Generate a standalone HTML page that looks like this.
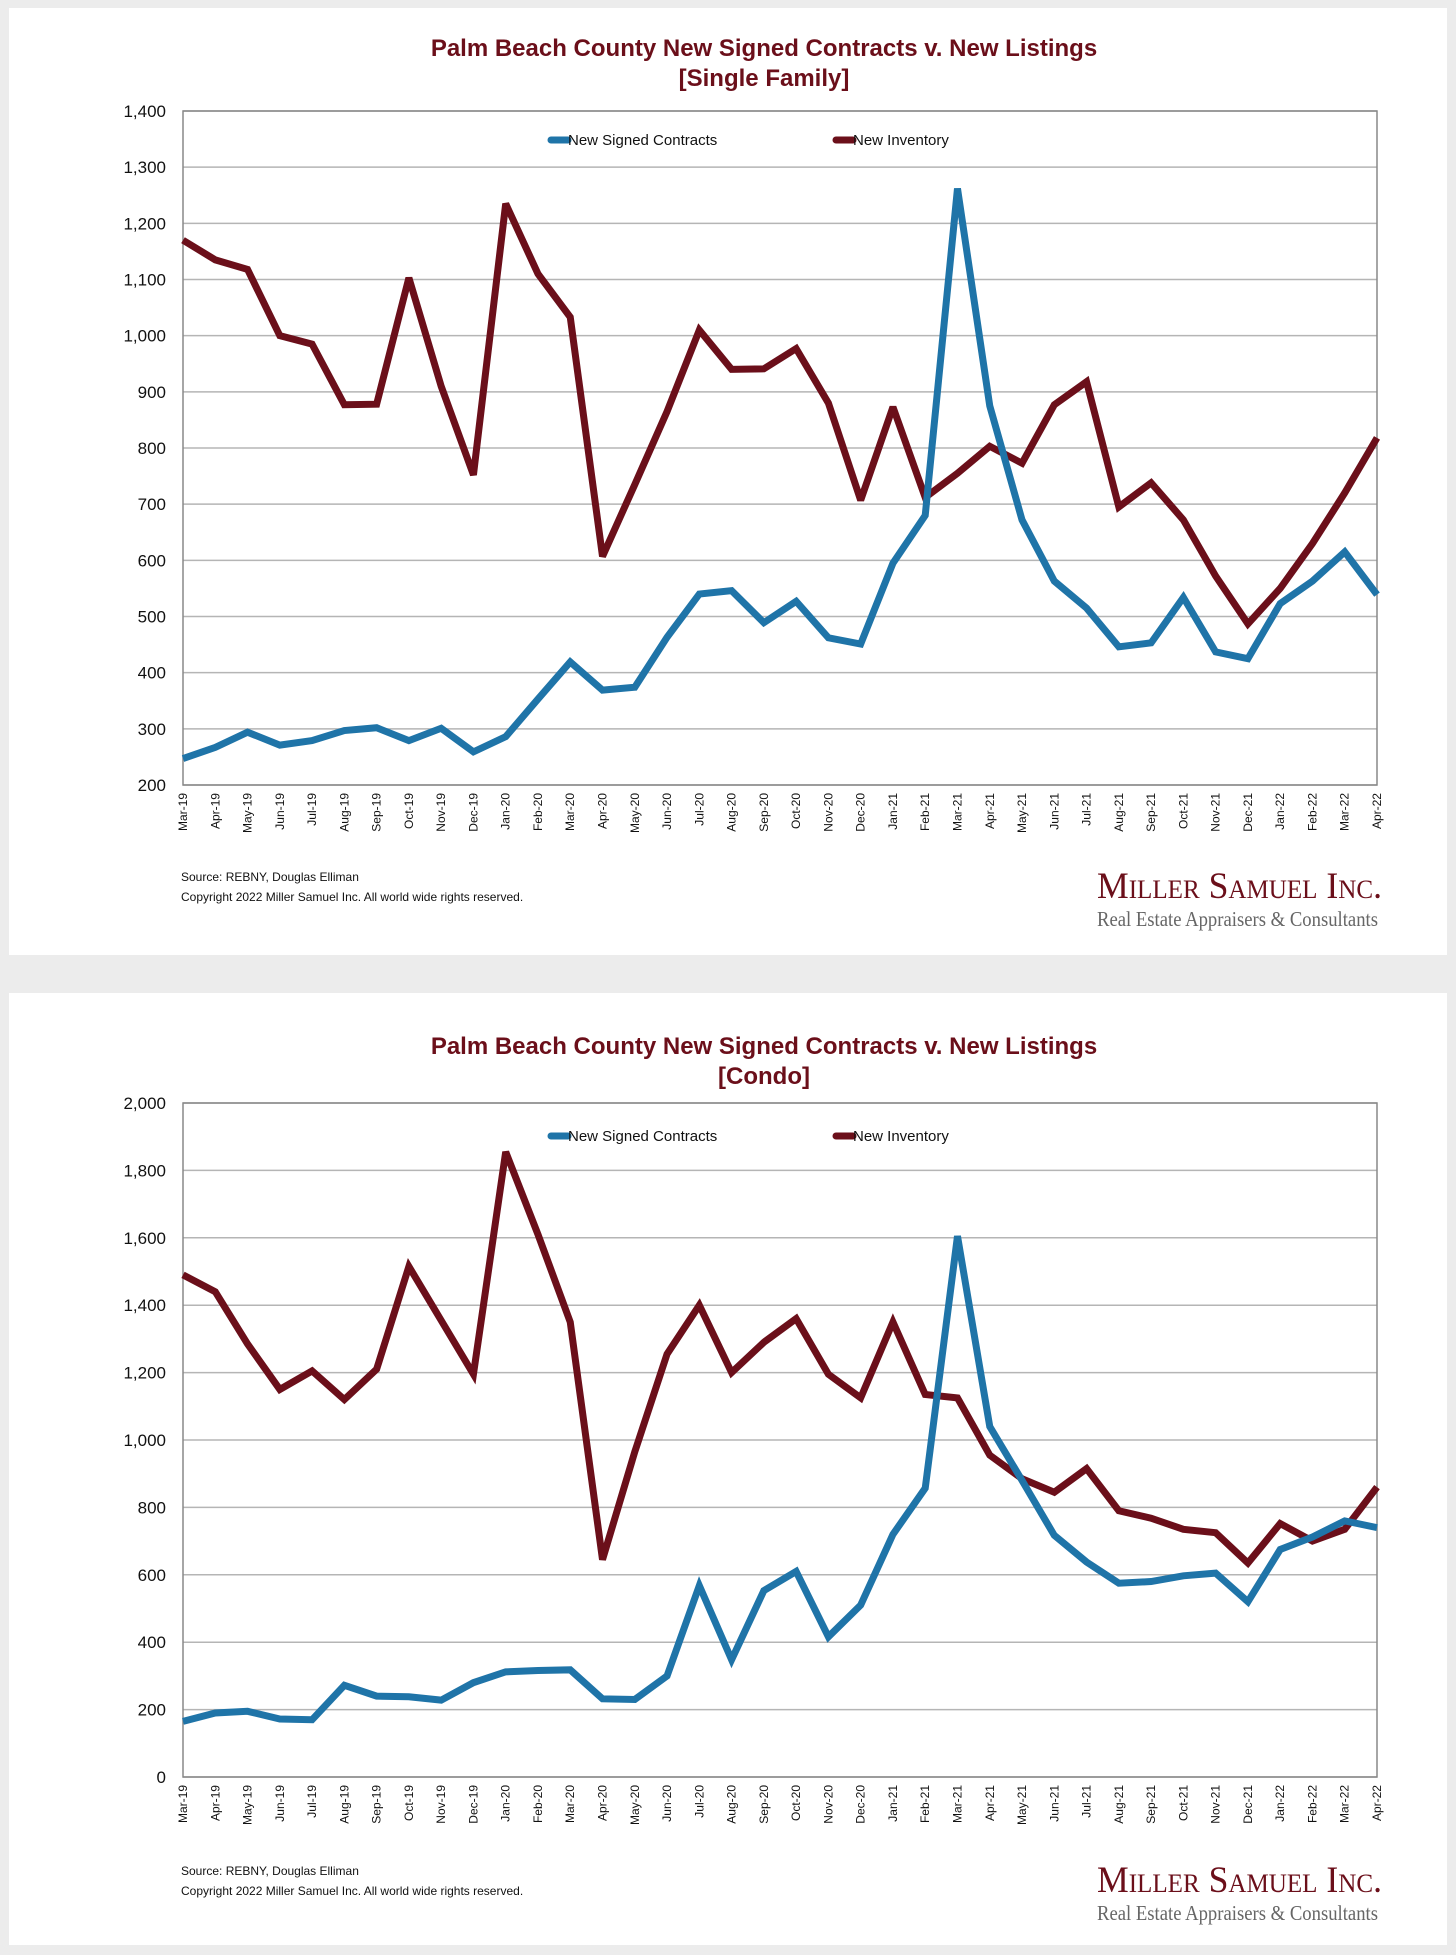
<!DOCTYPE html>
<html><head><meta charset="utf-8"><style>
html,body{margin:0;padding:0;background:#ececec;}
svg{display:block;font-family:"Liberation Sans",Arial,sans-serif;}
</style></head><body>
<svg id="root" width="1456" height="1955" viewBox="0 0 1456 1955">
<rect x="0" y="0" width="1456" height="1955" fill="#ececec"/>
<rect x="9" y="8" width="1438" height="947" fill="#fff"/>
<rect x="9" y="993" width="1438" height="952" fill="#fff"/>
<g id="c1"></g>
<g id="c2"></g>
</svg>
<script>
const months = ["Mar-19","Apr-19","May-19","Jun-19","Jul-19","Aug-19","Sep-19","Oct-19","Nov-19","Dec-19","Jan-20","Feb-20","Mar-20","Apr-20","May-20","Jun-20","Jul-20","Aug-20","Sep-20","Oct-20","Nov-20","Dec-20","Jan-21","Feb-21","Mar-21","Apr-21","May-21","Jun-21","Jul-21","Aug-21","Sep-21","Oct-21","Nov-21","Dec-21","Jan-22","Feb-22","Mar-22","Apr-22"];
const sfInventory = [1170,1135,1118,1000,985,877,878,1103,910,752,1235,1110,1033,607,735,865,1010,940,941,977,880,707,873,712,755,803,773,877,918,695,738,672,572,487,550,630,720,818];
const sfContracts = [247,267,294,271,279,297,302,279,301,259,286,353,419,369,374,463,540,546,489,527,462,451,595,680,1262,875,672,563,515,446,453,534,437,425,523,563,615,539];
const condoInventory = [1490,1440,1285,1150,1205,1120,1210,1515,1355,1195,1855,1610,1350,645,965,1255,1400,1200,1290,1360,1195,1125,1350,1135,1125,955,885,845,915,790,768,735,725,635,752,700,735,860];
const condoContracts = [165,190,195,172,170,272,240,238,228,280,312,316,318,232,230,300,568,348,553,610,416,510,720,857,1605,1040,880,717,638,575,580,597,605,520,675,712,760,740];
const sfTicks = [200,300,400,500,600,700,800,900,1000,1100,1200,1300,1400];
const condoTicks = [0,200,400,600,800,1000,1200,1400,1600,1800,2000];

const NS="http://www.w3.org/2000/svg";
function mk(parent,tag,attrs,text){const e=document.createElementNS(NS,tag);for(const k in attrs)e.setAttribute(k,attrs[k]);if(text!==undefined)e.textContent=text;parent.appendChild(e);return e;}
function fmt(v){return v.toLocaleString("en-US");}

function drawChart(g,cfg){
  const L=183,R=1377,T=cfg.top,B=cfg.bottom,min=cfg.ticks[0],max=cfg.ticks[cfg.ticks.length-1];
  const x=i=>L+(R-L)*i/(months.length-1);
  const y=v=>B-(B-T)*(v-min)/(max-min);
  let t=mk(g,"text",{x:764,y:cfg.titleY,"text-anchor":"middle","font-size":"24","font-weight":"bold",fill:"#6b0f1a"},cfg.title1);
  
  
  t=mk(g,"text",{x:764,y:cfg.titleY+30,"text-anchor":"middle","font-size":"24","font-weight":"bold",fill:"#6b0f1a"},cfg.title2);
  
  
  cfg.ticks.forEach(v=>{
    const gl=mk(g,"line",{x1:L,x2:R,y1:y(v),y2:y(v),stroke:"#b5b5b5","stroke-width":"1.5"});
    
    
    const tl=mk(g,"text",{x:166,y:y(v)+6,"text-anchor":"end","font-size":"17",fill:"#111"},fmt(v));
    
    
  });
  const fr=mk(g,"rect",{x:L,y:T,width:R-L,height:B-T,fill:"none",stroke:"#888","stroke-width":"1.5"});
  
  
  months.forEach((m,i)=>{
    const xl=mk(g,"text",{x:0,y:0,"text-anchor":"end","font-size":"12",fill:"#111",transform:`translate(${x(i)+4},${B+8}) rotate(-90)`},m);
    
    
  });
  const series=[[cfg.inventory,"#6b0f1a","new-inventory-line"],[cfg.contracts,"#1f74a8","new-signed-contracts-line"]];
  series.forEach(([d,c,n])=>{
    const p=mk(g,"polyline",{points:d.map((v,i)=>x(i)+","+y(v)).join(" "),fill:"none",stroke:c,"stroke-width":"7","stroke-linejoin":"miter","stroke-miterlimit":"3"});
    
    
  });
  const ly=cfg.legendY;
  let ll=mk(g,"line",{x1:551,x2:568,y1:ly,y2:ly,stroke:"#1f74a8","stroke-width":"7","stroke-linecap":"round"});
  
  
  let lt=mk(g,"text",{x:568,y:ly+5,"font-size":"15",fill:"#111"},"New Signed Contracts");
  
  
  ll=mk(g,"line",{x1:836,x2:853,y1:ly,y2:ly,stroke:"#6b0f1a","stroke-width":"7","stroke-linecap":"round"});
  
  
  lt=mk(g,"text",{x:853,y:ly+5,"font-size":"15",fill:"#111"},"New Inventory");
  
  
  const f=cfg.footY;
  let s=mk(g,"text",{x:181,y:f,"font-size":"12",fill:"#111"},"Source: REBNY, Douglas Elliman");
  
  
  s=mk(g,"text",{x:181,y:f+20,"font-size":"12",fill:"#111"},"Copyright 2022 Miller Samuel Inc.  All world wide rights reserved.");
  
  
  s=mk(g,"text",{x:1097,y:f+17,"font-size":"37","font-family":"Liberation Serif, serif","font-variant":"small-caps",fill:"#6b0f1a",textLength:"285",lengthAdjust:"spacingAndGlyphs"},"Miller Samuel Inc.");
  
  
  s=mk(g,"text",{x:1097,y:f+45,"font-size":"21","font-family":"Liberation Serif, serif",fill:"#666",textLength:"281",lengthAdjust:"spacingAndGlyphs"},"Real Estate Appraisers & Consultants");
  
  
}
drawChart(document.getElementById("c1"),{top:111,bottom:785,ticks:sfTicks,inventory:sfInventory,contracts:sfContracts,title1:"Palm Beach County New Signed Contracts v. New Listings",title2:"[Single Family]",titleY:56,legendY:140,footY:881});
drawChart(document.getElementById("c2"),{top:1103,bottom:1777,ticks:condoTicks,inventory:condoInventory,contracts:condoContracts,title1:"Palm Beach County New Signed Contracts v. New Listings",title2:"[Condo]",titleY:1054,legendY:1136,footY:1875});
</script>
</body></html>
